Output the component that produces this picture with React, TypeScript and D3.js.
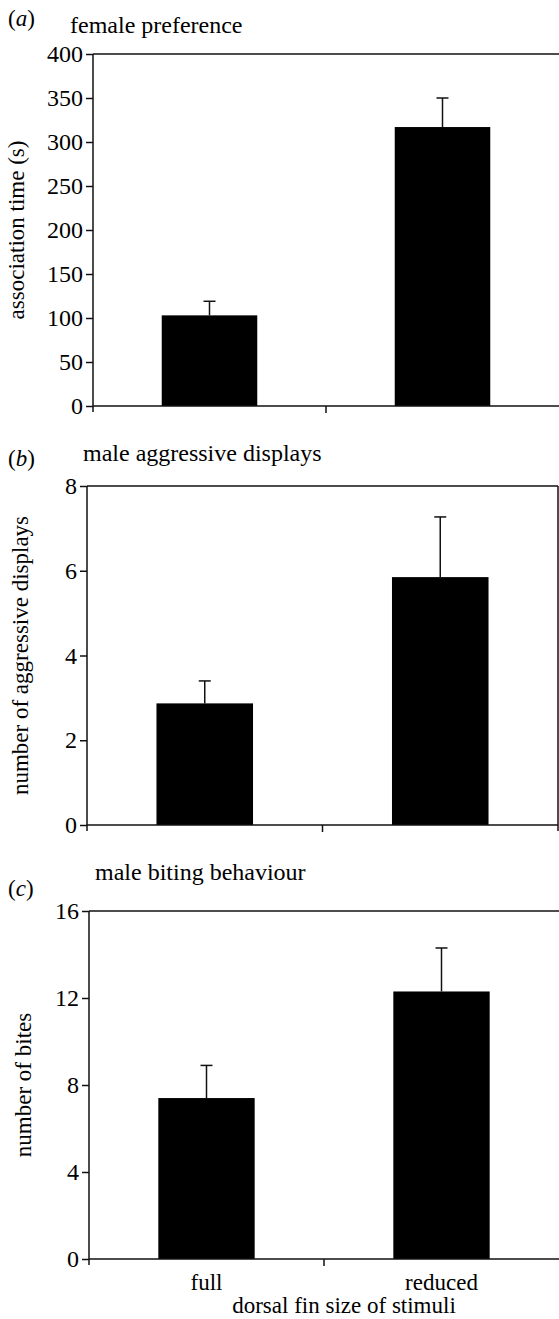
import * as d3 from 'd3';
import { useEffect, useRef } from 'react';

const categories = ['full', 'reduced'];

const femaleMeans = [103, 317];
const femaleSE = [16, 33];
const femaleTicks = [0, 50, 100, 150, 200, 250, 300, 350, 400];

const displayMeans = [2.87, 5.85];
const displaySE = [0.53, 1.42];
const displayTicks = [0, 2, 4, 6, 8];

const biteMeans = [7.4, 12.3];
const biteSE = [1.5, 2.0];
const biteTicks = [0, 4, 8, 12, 16];

const FONT = '"Liberation Serif", "Times New Roman", serif';

type PanelSpec = {
    letter: string;
    title: string;
    yLabel: string;
    means: number[];
    se: number[];
    ticks: number[];
    left: number;
    right: number;
    top: number;
    bottom: number;
    rightBorder: boolean;
    letterY: number;
    titleX: number;
    titleY: number;
    yLabelX: number;
    showX: boolean;
};

const panels: PanelSpec[] = [
    {
        letter: 'a', title: 'female preference', yLabel: 'association time (s)',
        means: femaleMeans, se: femaleSE, ticks: femaleTicks,
        left: 93, right: 559, top: 54, bottom: 406, rightBorder: false,
        letterY: 26, titleX: 70, titleY: 33, yLabelX: 24, showX: false,
    },
    {
        letter: 'b', title: 'male aggressive displays', yLabel: 'number of aggressive displays',
        means: displayMeans, se: displaySE, ticks: displayTicks,
        left: 87, right: 558, top: 486, bottom: 825, rightBorder: true,
        letterY: 466, titleX: 83, titleY: 461, yLabelX: 28, showX: false,
    },
    {
        letter: 'c', title: 'male biting behaviour', yLabel: 'number of bites',
        means: biteMeans, se: biteSE, ticks: biteTicks,
        left: 89, right: 559, top: 911, bottom: 1259, rightBorder: false,
        letterY: 896, titleX: 95, titleY: 880, yLabelX: 31, showX: true,
    },
];

export default function App() {
    const ref = useRef<SVGSVGElement>(null);

    useEffect(() => {
        const root = d3.select(ref.current);
        root.selectAll('*').remove();

        panels.forEach((p) => {
            const g = root.append('g');
            const yMax = p.ticks[p.ticks.length - 1];
            const y = d3.scaleLinear().domain([0, yMax]).range([p.bottom, p.top]);
            const x = d3
                .scaleBand()
                .domain(categories)
                .range([p.left, p.right])
                .paddingInner(0.59)
                .paddingOuter(0.295);

            // bars
            g.selectAll('rect.bar')
                .data(categories)
                .join('rect')
                .attr('x', (d) => x(d)!)
                .attr('width', x.bandwidth())
                .attr('y', (_, i) => y(p.means[i]))
                .attr('height', (_, i) => p.bottom - y(p.means[i]))
                .attr('fill', '#000');

            // error bars (upper only)
            g.selectAll('line.err')
                .data(categories)
                .join('line')
                .attr('x1', (d) => x(d)! + x.bandwidth() / 2)
                .attr('x2', (d) => x(d)! + x.bandwidth() / 2)
                .attr('y1', (_, i) => y(p.means[i]))
                .attr('y2', (_, i) => y(p.means[i] + p.se[i]))
                .attr('stroke', '#111')
                .attr('stroke-width', 1.5);
            g.selectAll('line.cap')
                .data(categories)
                .join('line')
                .attr('x1', (d) => x(d)! + x.bandwidth() / 2 - 6)
                .attr('x2', (d) => x(d)! + x.bandwidth() / 2 + 6)
                .attr('y1', (_, i) => y(p.means[i] + p.se[i]))
                .attr('y2', (_, i) => y(p.means[i] + p.se[i]))
                .attr('stroke', '#111')
                .attr('stroke-width', 1.5);

            // y axis
            const yAxis = g
                .append('g')
                .attr('transform', `translate(${p.left},0)`)
                .call(d3.axisLeft(y).tickValues(p.ticks).tickSize(7).tickSizeOuter(0).tickPadding(3));
            yAxis.select('.domain').remove();
            yAxis.selectAll('line').attr('stroke', '#111').attr('stroke-width', 1.5);
            yAxis
                .selectAll('text')
                .attr('font-family', FONT)
                .attr('font-size', 24)
                .attr('fill', '#000');

            const stroke = (sel: d3.Selection<SVGLineElement, unknown, null, undefined>) =>
                sel.attr('stroke', '#111').attr('stroke-width', 1.5);

            // frame: left axis line, top line, bottom axis
            g.append('line').attr('x1', p.left).attr('x2', p.left).attr('y1', p.top).attr('y2', p.bottom + 6).call(stroke);
            g.append('line').attr('x1', p.left).attr('x2', p.right).attr('y1', p.top).attr('y2', p.top).call(stroke);
            g.append('line').attr('x1', p.left).attr('x2', p.right).attr('y1', p.bottom).attr('y2', p.bottom).call(stroke);
            if (p.rightBorder) {
                g.append('line').attr('x1', p.right).attr('x2', p.right).attr('y1', p.top).attr('y2', p.bottom + 6).call(stroke);
            }
            // category separator tick
            const mid = p.left + x.step();
            g.append('line').attr('x1', mid).attr('x2', mid).attr('y1', p.bottom).attr('y2', p.bottom + 7).call(stroke);

            // texts
            g.append('text')
                .attr('x', 8)
                .attr('y', p.letterY)
                .attr('font-family', FONT)
                .attr('font-size', 23)
                .html(`(<tspan font-style="italic">${p.letter}</tspan>)`);
            g.append('text')
                .attr('x', p.titleX)
                .attr('y', p.titleY)
                .attr('font-family', FONT)
                .attr('font-size', 24)
                .text(p.title);
            g.append('text')
                .attr('transform', `translate(${p.yLabelX},${(p.top + p.bottom) / 2}) rotate(-90)`)
                .attr('text-anchor', 'middle')
                .attr('font-family', FONT)
                .attr('font-size', 23)
                .text(p.yLabel);

            if (p.showX) {
                g.selectAll('text.cat')
                    .data(categories)
                    .join('text')
                    .attr('x', (d) => x(d)! + x.bandwidth() / 2)
                    .attr('y', p.bottom + 31)
                    .attr('text-anchor', 'middle')
                    .attr('font-family', FONT)
                    .attr('font-size', 23)
                    .text((d) => d);
                g.append('text')
                    .attr('x', (p.left + p.right) / 2 + 20)
                    .attr('y', p.bottom + 54)
                    .attr('text-anchor', 'middle')
                    .attr('font-family', FONT)
                    .attr('font-size', 23)
                    .text('dorsal fin size of stimuli');
            }
        });
    }, []);

    return (
        <svg
            ref={ref}
            width={559}
            height={1319}
            style={{ position: 'absolute', left: 0, top: 0, background: '#fff' }}
        />
    );
}
